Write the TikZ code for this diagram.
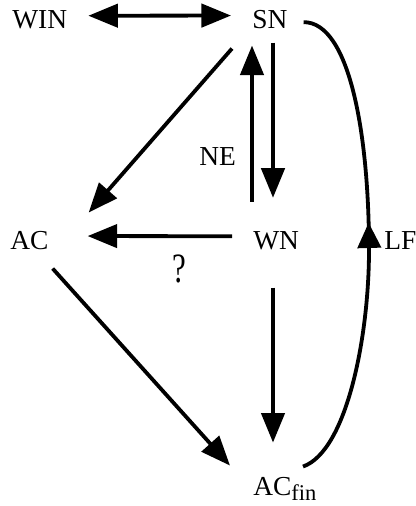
\documentclass[tikz,border=0pt]{standalone}
\usepackage{fontspec}
\setmainfont{Liberation Serif}
\usetikzlibrary{arrows.meta,calc,decorations.markings}

\begin{document}
\begin{tikzpicture}[x=0.025cm, y=0.025cm,
  state/.style={inner sep=0pt, anchor=base west, font=\fontsize{19.5pt}{23pt}\selectfont},
  flow/.style={line width=2.7pt, -{Triangle[length=21pt,width=16.5pt]}},
  midflow/.style={line width=2.7pt, postaction={decorate},
    decoration={markings, mark=at position 0.54 with {\arrow{Triangle[length=18pt,width=16.5pt]}}}}]
  \useasboundingbox (0,0) rectangle (415,506);
  % states
  \node[state] (WIN) at (12,477.5) {WIN};
  \node[state] (SN) at (252,477.5) {SN};
  \node[state] (AC) at (10,256) {AC};
  \node[state] (WN) at (253,256) {WN};
  \node[state] (LF) at (384,256) {LF};
  \node[state] (ACfin) at (253,11) {AC\raisebox{-0.13cm}{\fontsize{16pt}{18pt}\selectfont fin}};
  % labels
  \node[state] (ne) at (199,340) {NE};
  \node[state] (qm) at (172,223) {\fontsize{22pt}{24pt}\selectfont\scalebox{1}[1.35]{?}};
  % transitions
  \draw[flow, {Triangle[length=21pt,width=16.5pt]}-{Triangle[length=21pt,width=16.5pt]}]
    ($(WIN.east)+(21,4)$) -- ($(SN.west)+(-21,4)$);
  \draw[flow] ($(SN.south west)+(-20,-19.5)$) -- ($(AC.north east)+(40,19)$);
  \draw[flow] ($(WN.north west)+(-1,30)$) -- ($(SN.south west)+(0,-16.5)$);
  \draw[flow] ($(SN.south west)+(21,-13.5)$) -- ($(WN.north west)+(20,34)$);
  \draw[flow] ($(WN.west)+(-21,5)$) -- ($(AC.east)+(39,5)$);
  \draw[flow] ($(AC.south east)+(4,-18)$) -- ($(ACfin.north west)+(-23,11)$);
  \draw[flow] ($(WN.south west)+(20,-37)$) -- ($(ACfin.north west)+(20,34)$);
  \draw[midflow] ($(ACfin.north west)+(50,10)$)
    .. controls (347,55) and (369,170) .. (369,256)
    .. controls (369,370) and (350,484) .. ($(SN.east)+(16,-2.6)$);
\end{tikzpicture}
\end{document}
